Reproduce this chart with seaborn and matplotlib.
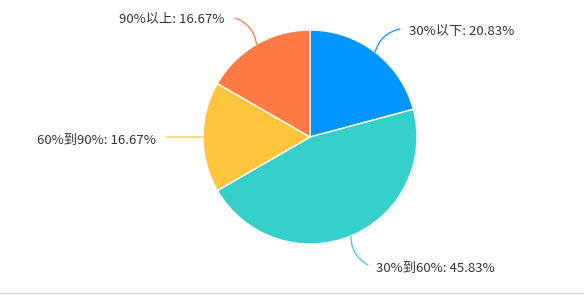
import matplotlib
matplotlib.use("Agg")
import matplotlib.pyplot as plt
import seaborn as sns
import numpy as np
from matplotlib.lines import Line2D

sns.set_theme(style="white")
plt.rcParams['font.family'] = ['Noto Sans CJK SC', 'DejaVu Sans']

categories = ["30%以下", "30%到60%", "60%到90%", "90%以上"]
values = [20.83, 45.83, 16.67, 16.67]
colors = ["#0096fe", "#36d0ca", "#ffc53d", "#ff7a45"]

fig = plt.figure(figsize=(5.84, 3.0), dpi=100)
fig.patch.set_facecolor("white")
cx, cy, r = 310, 137, 107
ax = fig.add_axes([(cx - r) / 584, (300 - cy - r) / 300, 2 * r / 584, 2 * r / 300])

wedges, _ = ax.pie(values, colors=colors, startangle=90, counterclock=False,
                   radius=1.0, wedgeprops=dict(edgecolor="white", linewidth=1.0))
ax.set_xlim(-1, 1)
ax.set_ylim(-1, 1)
ax.axis("off")

def d(px, py):
    return ((px - cx) / r, (cy - py) / r)

# (line end, text anchor, alignment, curvature)
specs = [
    (d(400, 29), d(409, 31), "left", 0.3),
    (d(368, 265), d(376, 268), "left", -0.3),
    (d(166, 137), d(156, 140), "right", 0.0),
    (d(235, 18), d(224, 19), "right", -0.3),
]
cum = 0.0
total = sum(values)
for cat, val, col, (lend, tpos, ha, rad) in zip(categories, values, colors, specs):
    mid = 90 - (cum + val / 2) / total * 360
    cum += val
    ex, ey = np.cos(np.radians(mid)), np.sin(np.radians(mid))
    ax.annotate("", xy=(ex, ey), xytext=lend, annotation_clip=False,
                arrowprops=dict(arrowstyle="-", color=col, lw=0.9,
                                shrinkA=0, shrinkB=0,
                                connectionstyle=f"arc3,rad={rad}"))
    ax.text(tpos[0], tpos[1], f"{cat}: {val:.2f}%", ha=ha, va="center",
            fontsize=9.5, color="#333333", clip_on=False)

fig.add_artist(Line2D([0, 1], [7 / 300, 7 / 300], color="#d6d6d6", lw=1.0,
                      transform=fig.transFigure))

fig.savefig("out.png", dpi=100, facecolor="white")
